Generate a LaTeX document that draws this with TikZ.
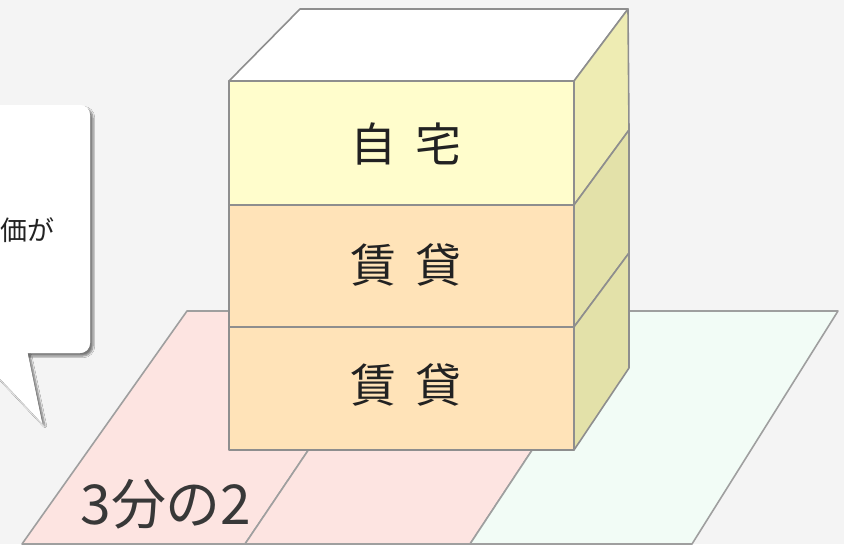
\documentclass[tikz,border=0pt]{standalone}
\usepackage{fontspec}
\newfontfamily\jp{Noto Sans CJK JP}
\usetikzlibrary{shadows.blur}
\definecolor{bg}{HTML}{F4F4F4}
\definecolor{edge}{HTML}{8E8E8E}
\definecolor{pinkf}{HTML}{FDE4E1}
\definecolor{greenf}{HTML}{F2FCF6}
\definecolor{yelf}{HTML}{FFFDCC}
\definecolor{orf}{HTML}{FFE3B8}
\definecolor{yels}{HTML}{EEECB3}
\definecolor{ors}{HTML}{E3E1A9}
\definecolor{txt}{HTML}{222222}
\tikzset{
  face/.style={draw=edge, line width=1.6pt, line join=round},
  floor/.style={draw=edge!85, line width=1.6pt, line join=round},
  lbl/.style={font=\jp\fontsize{46}{46}\selectfont, text=txt, inner sep=0pt},
  bshadow/.style={blur shadow={shadow xshift=3pt, shadow yshift=-3pt, shadow blur steps=6, shadow opacity=50}},
}
\begin{document}
\begin{tikzpicture}[x=1pt,y=-1pt]
\useasboundingbox (0,0) rectangle (844,544);
\clip (0,0) rectangle (844,544);
\fill[bg] (0,0) rectangle (844,544);
% floor
\path[floor, fill=pinkf] (187,311) -- (402,311) -- (245,544) -- (22,544) -- cycle;
\path[floor, fill=pinkf] (402,311) -- (624,311) -- (470,544) -- (245,544) -- cycle;
\path[floor, fill=greenf] (624,311) -- (838,311) -- (692,544) -- (470,544) -- cycle;
\node[font=\jp\fontsize{55}{55}\selectfont, text=txt!90, inner sep=0pt] (frac) at (166,504) {3分の2};
% callout
\path[fill=white, bshadow, rounded corners=10pt] (-60,105) rectangle (90,353);
\path[fill=white, bshadow] (27,352) -- (42,423) -- (-25,352) -- cycle;
\path[fill=white, rounded corners=10pt] (-60,105) rectangle (90,353);
\path[fill=white] (27,350) -- (42,423) -- (-25,350) -- cycle;
\node[font=\jp\fontsize{27}{27}\selectfont, anchor=east, inner sep=0pt, text=txt] (callout) at (55,230) {価が};
% box faces
\path[face, fill=white] (229,81) -- (300,9) -- (628,9) -- (574,81) -- cycle;
\path[face, fill=yels] (574,81) -- (628,9) -- (629,130) -- (574,205) -- cycle;
\path[face, fill=ors] (574,205) -- (629,130) -- (629,253) -- (574,327) -- cycle;
\path[face, fill=ors] (574,327) -- (629,253) -- (629,368) -- (574,450) -- cycle;
\path[face, fill=yelf] (229,81) rectangle (574,205);
\path[face, fill=orf] (229,205) rectangle (574,327);
\path[face, fill=orf] (229,327) rectangle (574,450);
\node[lbl] (home) at (406,144) {自\hspace{20pt}宅};
\node[lbl] (rent1) at (406,265) {賃\hspace{20pt}貸};
\node[lbl] (rent2) at (406,385) {賃\hspace{20pt}貸};
\end{tikzpicture}
\end{document}
